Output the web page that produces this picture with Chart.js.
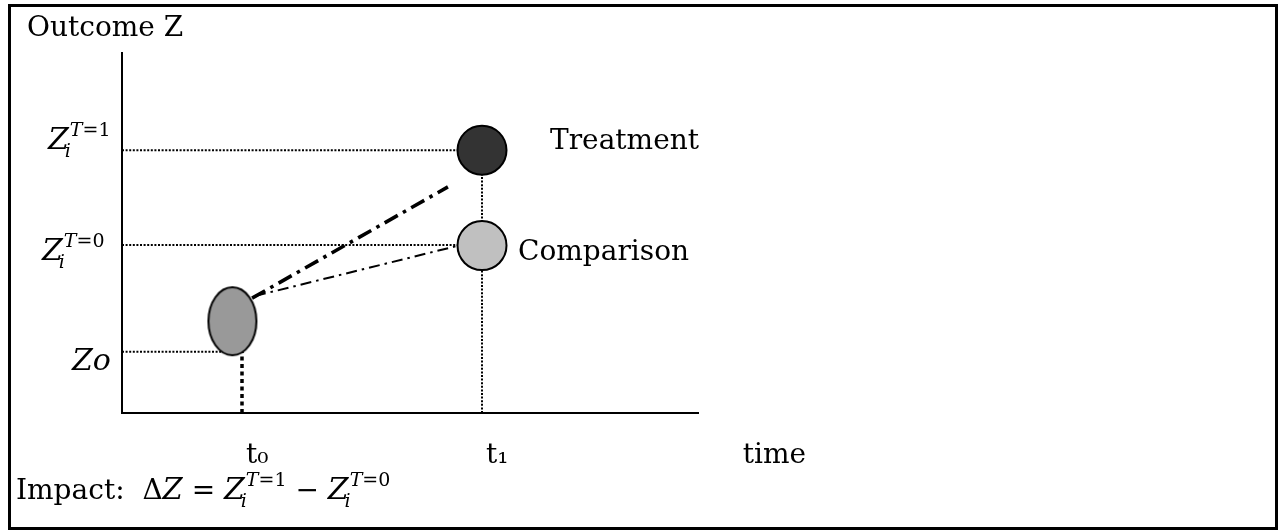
<!DOCTYPE html>
<html>
<head>
<meta charset="utf-8">
<script src="https://cdn.jsdelivr.net/npm/chart.js@4"></script>
<style>
  html, body { margin: 0; padding: 0; background: #fff; }
  #wrap { position: relative; width: 1280px; height: 531px; }
</style>
</head>
<body>
<div id="wrap"><canvas id="chart" width="1280" height="531"></canvas></div>
<script>
// ========================================
// DATA
// ========================================
const timeTicks = [1, 2, 3.07];
const timeTickLabels = ["t₀", "t₁", "time"];

const outcomeTicks = [7.3, 4.67, 1.7];
const outcomeTickSups = ["T=1", "T=0", ""];
const outcomeTickSubs = ["i", "i", ""];
const outcomeTickMains = ["Z", "Z", "Zo"];

const groupNames = ["Treatment", "Comparison"];
const groupTime = [2, 2];
const groupOutcome = [7.3, 4.65];
const groupColors = ["#333333", "#c0c0c0"];

const baselineTime = 0.96;
const baselineOutcome = 2.55;

const treatTrendX = [1.042, 1.858];
const treatTrendY = [3.19, 6.28];
const compTrendX = [1.054, 1.896];
const compTrendY = [3.25, 4.64];

// ========================================
// STYLE / LAYOUT
// ========================================
const SERIF = '"DejaVu Serif", "Liberation Serif", serif';
const labelShiftY = [-1, 15, 18];   // baseline offset of y labels from their value
const labelX = [48, 42, 72];        // left edge of y labels
const groupLabelDX = [68, 36];
const groupLabelDY = [-1, 14];

// ellipse used as point style for the baseline point
function makeEllipse() {
  const c = document.createElement("canvas");
  c.width = 54;
  c.height = 74;
  const g = c.getContext("2d");
  g.beginPath();
  g.ellipse(27, 37, 24, 34, 0, 0, Math.PI * 2);
  g.fillStyle = "#999999";
  g.fill();
  g.lineWidth = 2;
  g.strokeStyle = "#000";
  g.stroke();
  return c;
}

const pts = (xs, ys) => xs.map((x, i) => ({ x: x, y: ys[i] }));

function lineSet(data, width, dash) {
  return {
    type: "scatter",
    data: data,
    showLine: true,
    borderColor: "#000",
    borderWidth: width,
    borderDash: dash,
    pointRadius: 0,
    fill: false,
  };
}

// ========================================
// DATASETS (first dataset is drawn on top)
// ========================================
const datasets = [];

groupNames.forEach((name, i) => {
  datasets.push({
    label: name,
    data: [{ x: groupTime[i], y: groupOutcome[i] }],
    backgroundColor: groupColors[i],
    borderColor: "#000",
    borderWidth: 2,
    pointRadius: 24.5,
  });
});

datasets.push({
  label: "Baseline",
  data: [{ x: baselineTime, y: baselineOutcome }],
  pointStyle: makeEllipse(),
  pointRadius: 30,
});

// dash-dot trends
datasets.push(lineSet(pts(treatTrendX, treatTrendY), 3.6, [15, 6, 3.5, 6]));
datasets.push(lineSet(pts(compTrendX, compTrendY), 2, [11, 5, 2.5, 5]));

// dotted guide lines
datasets.push(lineSet([{ x: 0.5, y: outcomeTicks[0] }, { x: groupTime[0], y: outcomeTicks[0] }], 2, [2, 1.6]));
datasets.push(lineSet([{ x: 0.5, y: outcomeTicks[1] }, { x: groupTime[1], y: outcomeTicks[1] }], 2, [2, 1.6]));
datasets.push(lineSet([{ x: 0.5, y: outcomeTicks[2] }, { x: baselineTime, y: outcomeTicks[2] }], 2, [2, 1.6]));
datasets.push(lineSet([{ x: timeTicks[0], y: 0 }, { x: timeTicks[0], y: outcomeTicks[2] }], 3.5, [4, 3.5]));
datasets.push(lineSet([{ x: timeTicks[1], y: 0 }, { x: timeTicks[1], y: groupOutcome[0] }], 2, [2, 1.6]));

// ========================================
// TEXT HELPERS
// ========================================
function drawZ(ctx, x, base, main, sup, sub, size) {
  ctx.font = `italic ${size}px ${SERIF}`;
  ctx.fillText(main, x, base);
  const w = ctx.measureText(main).width;
  let end = x + w;
  const small = Math.round(size * 0.64);
  if (sub) {
    ctx.font = `italic ${small}px ${SERIF}`;
    ctx.fillText(sub, x + w - size * 0.14, base + size * 0.26);
  }
  if (sup) {
    let sx = x + w + 1;
    const sb = base - size * 0.44;
    ctx.font = `italic ${small}px ${SERIF}`;
    ctx.fillText(sup[0], sx, sb);
    sx += ctx.measureText(sup[0]).width;
    ctx.font = `${small}px ${SERIF}`;
    ctx.fillText(sup.slice(1), sx, sb);
    sx += ctx.measureText(sup.slice(1)).width;
    end = Math.max(end, sx);
  }
  return end;
}

const annotations = {
  id: "annotations",
  afterDraw(chart) {
    const ctx = chart.ctx;
    const xs = chart.scales.x;
    const ys = chart.scales.y;
    ctx.save();
    ctx.fillStyle = "#000";
    ctx.textBaseline = "alphabetic";
    ctx.textAlign = "left";

    // frame
    ctx.lineWidth = 3;
    ctx.strokeStyle = "#000";
    ctx.strokeRect(9.5, 5.5, 1267, 523);

    // axis title
    ctx.font = `28px ${SERIF}`;
    ctx.fillText("Outcome Z", 27, 36);

    // y tick labels
    outcomeTicks.forEach((v, i) => {
      const py = ys.getPixelForValue(v) + labelShiftY[i];
      drawZ(ctx, labelX[i], py, outcomeTickMains[i], outcomeTickSups[i], outcomeTickSubs[i], 30);
    });

    // x tick labels
    ctx.font = `28px ${SERIF}`;
    timeTicks.forEach((v, i) => {
      ctx.fillText(timeTickLabels[i], xs.getPixelForValue(v) + 4, 463);
    });

    // group labels
    groupNames.forEach((name, i) => {
      const px = xs.getPixelForValue(groupTime[i]) + groupLabelDX[i];
      const py = ys.getPixelForValue(groupOutcome[i]) + groupLabelDY[i];
      ctx.font = `28px ${SERIF}`;
      ctx.fillText(name, px, py);
    });

    // impact formula
    let x = 16;
    const base = 499;
    ctx.font = `28px ${SERIF}`;
    ctx.fillText("Impact:  Δ", x, base);
    x += ctx.measureText("Impact:  Δ").width;
    ctx.font = `italic 29px ${SERIF}`;
    ctx.fillText("Z", x, base);
    x += ctx.measureText("Z").width;
    ctx.font = `28px ${SERIF}`;
    ctx.fillText(" = ", x, base);
    x += ctx.measureText(" = ").width;
    x = drawZ(ctx, x, base, "Z", outcomeTickSups[0], outcomeTickSubs[0], 30);
    ctx.font = `28px ${SERIF}`;
    ctx.fillText(" − ", x, base);
    x += ctx.measureText(" − ").width;
    drawZ(ctx, x, base, "Z", outcomeTickSups[1], outcomeTickSubs[1], 30);

    ctx.restore();
  },
};

// ========================================
// CHART
// ========================================
new Chart(document.getElementById("chart"), {
  type: "scatter",
  data: { datasets: datasets },
  options: {
    responsive: false,
    animation: false,
    layout: { padding: { left: 122, top: 53, right: 582, bottom: 118 } },
    plugins: { legend: { display: false }, tooltip: { enabled: false } },
    elements: { point: { hoverRadius: 0 } },
    scales: {
      x: {
        type: "linear",
        min: 0.5,
        max: 2.9,
        grid: { display: false, drawTicks: false },
        ticks: { display: false },
        border: { display: true, color: "#000", width: 2 },
      },
      y: {
        type: "linear",
        min: 0,
        max: 10,
        grid: { display: false, drawTicks: false },
        ticks: { display: false },
        border: { display: true, color: "#000", width: 2 },
      },
    },
  },
  plugins: [annotations],
});
</script>
</body>
</html>
